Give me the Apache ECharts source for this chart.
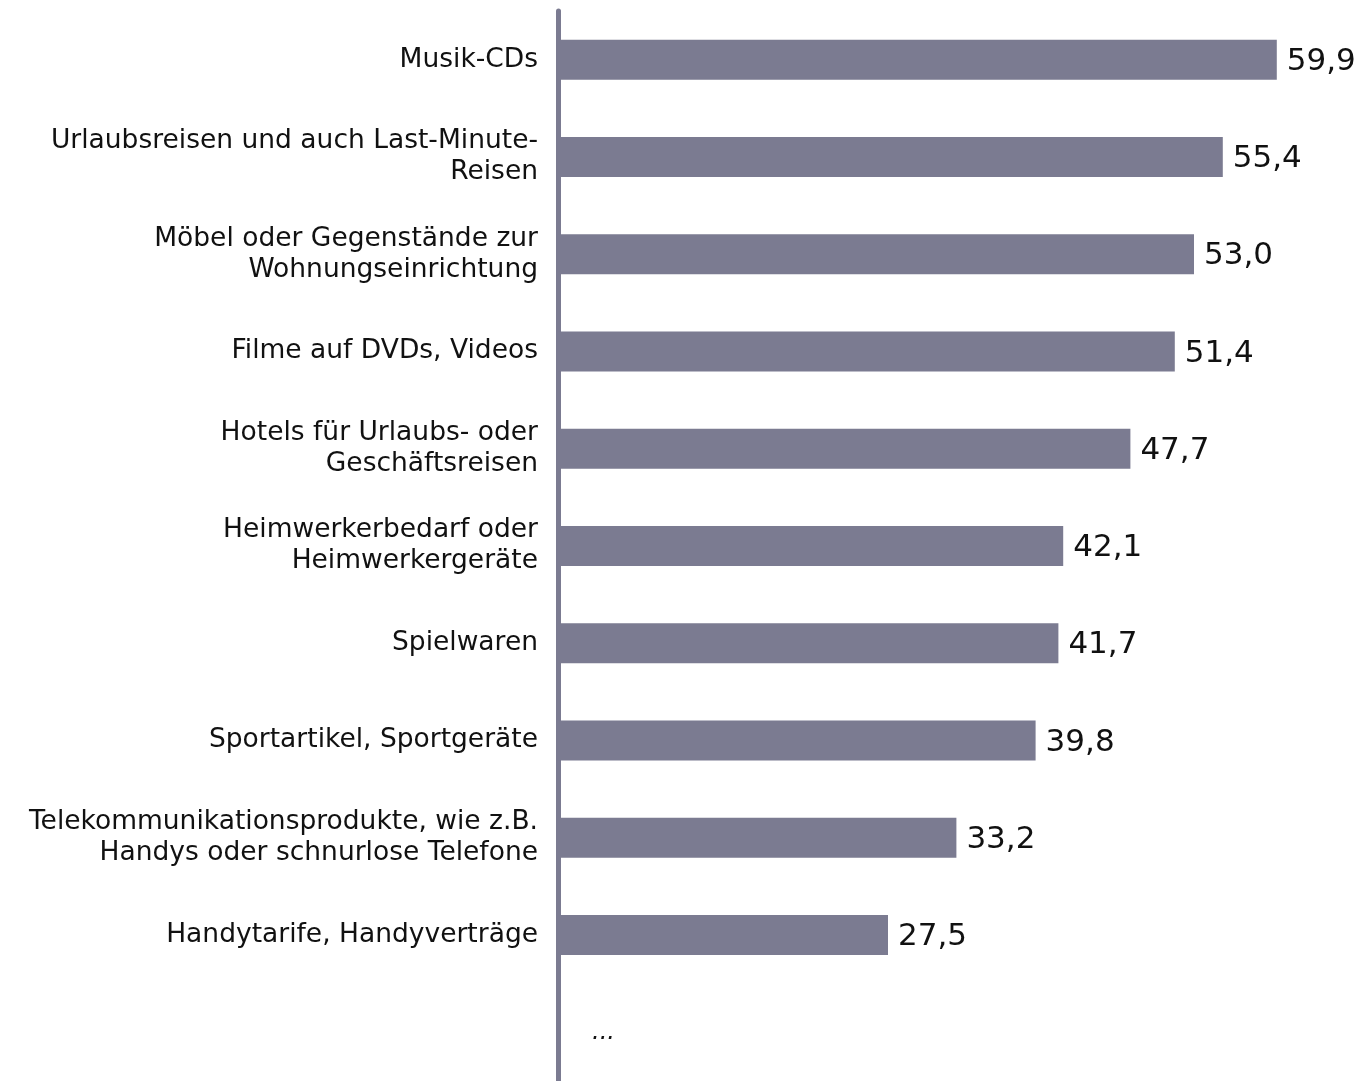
<!DOCTYPE html>
<html>
<head>
<meta charset="utf-8">
<script src="https://cdn.jsdelivr.net/npm/echarts@6/dist/echarts.min.js"></script>
<style>
  html, body { margin: 0; padding: 0; background: #fff; }
  #chart { width: 1362px; height: 1081px; }
</style>
</head>
<body>
<div id="chart"></div>
<script>
const categories = [
  'Musik-CDs',
  'Urlaubsreisen und auch Last-Minute-\nReisen',
  'Möbel oder Gegenstände zur\nWohnungseinrichtung',
  'Filme auf DVDs, Videos',
  'Hotels für Urlaubs- oder\nGeschäftsreisen',
  'Heimwerkerbedarf oder\nHeimwerkergeräte',
  'Spielwaren',
  'Sportartikel, Sportgeräte',
  'Telekommunikationsprodukte, wie z.B.\nHandys oder schnurlose Telefone',
  'Handytarife, Handyverträge',
  ''
]
const values = [59.9, 55.4, 53.0, 51.4, 47.7, 42.1, 41.7, 39.8, 33.2, 27.5, 0]
const moreLabel = '...'

const barColor = '#7b7b91'
const font = '"DejaVu Sans", Verdana, sans-serif'
const chart = echarts.init(document.getElementById('chart'))

const option = {
  animation: false,
  grid: {
    left: 558,
    top: 11,
    width: 720,
    height: 1072,
    containLabel: false
  },
  xAxis: {
    type: 'value',
    min: 0,
    max: 60,
    show: false
  },
  yAxis: {
    type: 'category',
    inverse: true,
    data: categories,
    axisLine: {
      show: true,
      lineStyle: { color: barColor, width: 5, cap: 'round' }
    },
    axisTick: { show: false },
    axisLabel: {
      margin: 20,
      color: '#111',
      fontFamily: font,
      fontSize: 26.5,
      lineHeight: 31,
      align: 'right'
    }
  },
  series: [
    {
      type: 'bar',
      barWidth: 40,
      data: values.map((v, i) => {
        if (i === values.length - 1) {
          // leere Zeile unten: nur die Auslassungspunkte
          return {
            value: v,
            label: {
              distance: 34,
              fontSize: 24,
              fontStyle: 'italic',
              offset: [0, 0]
            }
          }
        }
        return v
      }),
      itemStyle: { color: barColor },
      label: {
        show: true,
        position: 'right',
        distance: 10,
        offset: [0, 2],
        color: '#111',
        fontFamily: font,
        fontSize: 31,
        formatter: p => (p.dataIndex === values.length - 1 ? moreLabel : p.value.toFixed(1).replace('.', ','))
      }
    }
  ]
}
chart.setOption(option)
</script>
</body>
</html>
